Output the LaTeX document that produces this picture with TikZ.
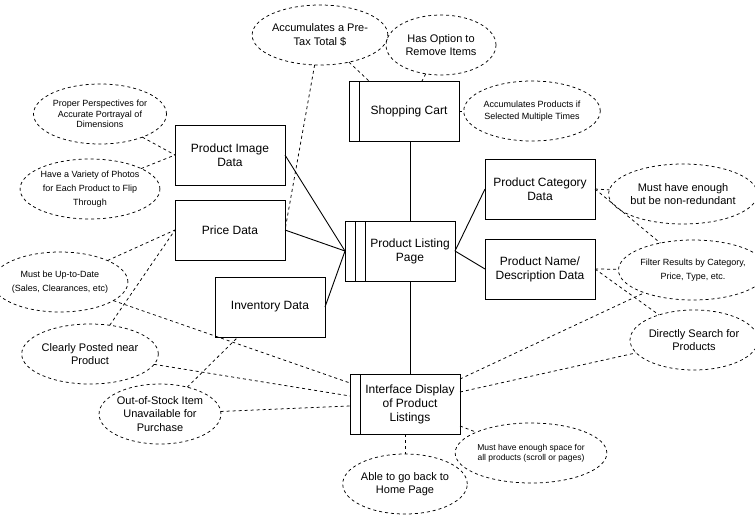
\documentclass[tikz,border=0pt]{standalone}
\usepackage{fontspec}
\setmainfont{Liberation Sans}
\usetikzlibrary{shapes.geometric}
\begin{document}
\begin{tikzpicture}[x=1pt,y=-1pt,
 box/.style={draw, rectangle, minimum width=110pt, minimum height=60pt, inner sep=0pt, outer sep=0pt, line width=0.9pt, align=center, font=\fontsize{12}{14}\selectfont},
 btxt/.style={align=center, inner sep=0pt, font=\fontsize{12}{14}\selectfont},
 ell/.style={draw, ellipse, dash pattern=on 3pt off 3pt, line width=0.75pt, minimum width=110pt, minimum height=60pt, inner sep=0pt, outer sep=0pt, align=center},
 fl/.style={font=\fontsize{11}{13.5}\selectfont},
 fs/.style={font=\fontsize{9}{14}\selectfont},
 fsm/.style={font=\fontsize{9}{11.5}\selectfont},
 fxs/.style={font=\fontsize{8.5}{10}\selectfont},
 sl/.style={line width=0.9pt},
 dl/.style={dash pattern=on 3pt off 3pt, line width=0.75pt}]
\useasboundingbox (0,0) rectangle (755,520);

% boxes
\node[box] (cart) at (404,111) {};
\node[btxt] (cartT) at (409,111) {Shopping Cart};
\draw[sl] ([xshift=10pt]cart.north west) -- ([xshift=10pt]cart.south west);

\node[box] (plp) at (400,251) {};
\node[btxt] (plpT) at (410,251) {Product Listing\\Page};
\draw[sl] ([xshift=10pt]plp.north west) -- ([xshift=10pt]plp.south west);
\draw[sl] ([xshift=20pt]plp.north west) -- ([xshift=20pt]plp.south west);

\node[box] (iface) at (405,404) {};
\node[btxt] (ifaceT) at (410,404) {Interface Display\\of Product\\Listings};
\draw[sl] ([xshift=10pt]iface.north west) -- ([xshift=10pt]iface.south west);

\node[box] (img) at (230,155) {Product Image\\Data};
\node[box] (price) at (230,230) {Price Data};
\node[box] (inv) at (270,307) {Inventory Data};
\node[box] (cat) at (540,189) {Product Category\\Data};
\node[box] (name) at (540,269) {Product Name/\\Description Data};

% ellipses
\node[ell, fl] (pretax) at (320,35) {Accumulates a Pre-\\Tax Total \$};
\node[ell, fl] (remove) at (441,45) {Has Option to\\Remove Items};
\node[ell, fsm] (accum) at (532,111) {Accumulates Products if\\Selected Multiple Times};
\node[ell, fl] (nonred) at (683,194) {Must have enough\\but be non-redundant};
\node[ell, fs] (filter) at (693,270) {Filter Results by Category,\\Price, Type, etc.};
\node[ell, fl] (search) at (694,340) {Directly Search for\\Products};
\node[ell, font=\fontsize{9}{10.5}\selectfont] (persp) at (100,114) {Proper Perspectives for\\Accurate Portrayal of\\Dimensions};
\node[ell, fs] (variety) at (90,189) {Have a Variety of Photos\\for Each Product to Flip\\Through};
\node[ell, fs] (uptodate) at (60,282) {Must be Up-to-Date\\(Sales, Clearances, etc)};
\node[ell, fl] (posted) at (90,354) {Clearly Posted near\\Product};
\node[ell, fl] (stock) at (160,414) {Out-of-Stock Item\\Unavailable for\\Purchase};
\node[ell, fl] (home) at (405,484) {Able to go back to\\Home Page};
\node[ell, fxs] (space) at (531,453) {Must have enough space for\\all products (scroll or pages)};

% solid connectors
\draw[sl] ([xshift=6pt]cart.south) -- ([xshift=10pt]plp.north);
\draw[sl] ([xshift=10pt]plp.south) -- ([xshift=5pt]iface.north);
\draw[sl] (img.east) -- (plp.west);
\draw[sl] (price.east) -- (plp.west);
\draw[sl] (inv.east) -- (plp.west);
\draw[sl] (plp.east) -- (cat.west);
\draw[sl] (plp.east) -- (name.west);

% dashed connectors
\draw[dl] (pretax) -- (price.east);
\draw[dl] (pretax) -- ([xshift=-35pt]cart.north);
\draw[dl] (remove) -- ([xshift=18pt]cart.north);
\draw[dl] (cart.east) -- (accum);
\draw[dl] (persp) -- (img.west);
\draw[dl] (variety) -- (img.west);
\draw[dl] (uptodate) -- (price.west);
\draw[dl] (uptodate) -- ([yshift=21pt]iface.west);
\draw[dl] (posted) -- (price.west);
\draw[dl] (posted) -- ([yshift=8pt]iface.west);
\draw[dl] (stock) -- ([xshift=-32pt]inv.south);
\draw[dl] (stock) -- ([yshift=-2pt]iface.west);
\draw[dl] (iface.south) -- (home);
\draw[dl] ([yshift=-22pt]iface.east) -- (space);
\draw[dl] ([yshift=25pt]iface.east) -- (filter);
\draw[dl] ([yshift=12pt]iface.east) -- (search);
\draw[dl] (cat.east) -- (nonred);
\draw[dl] (cat.east) -- (filter);
\draw[dl] (name.east) -- (filter);
\draw[dl] (name.east) -- (search);
\end{tikzpicture}
\end{document}
